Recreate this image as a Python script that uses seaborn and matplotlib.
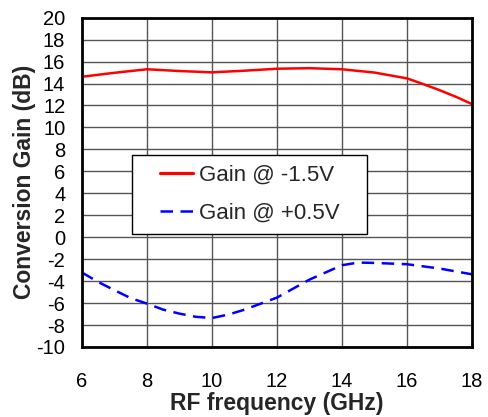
import matplotlib
matplotlib.use("Agg")
import matplotlib.pyplot as plt
import matplotlib.patches as mpatches
import seaborn as sns
import pandas as pd

freq_red = [6, 7, 8, 9, 10, 11, 12, 13, 14, 15, 16, 16.5, 17, 17.5, 18]
gain_red = [14.62, 14.98, 15.3, 15.14, 15.02, 15.17, 15.35, 15.4, 15.3, 15.0, 14.47, 13.95, 13.4, 12.8, 12.13]
freq_blue = [6, 6.5, 7, 7.5, 8, 8.5, 9, 9.5, 10, 10.5, 11, 11.5, 12, 13, 14, 14.5, 15, 16, 17, 18]
gain_blue = [-3.22, -4.08, -4.83, -5.55, -6.05, -6.6, -6.96, -7.25, -7.36, -7.05, -6.6, -6.05, -5.5,
             -3.86, -2.55, -2.31, -2.34, -2.46, -2.85, -3.38]
label_red = "Gain @ -1.5V"
label_blue = "Gain @ +0.5V"
x_ticks = [6, 8, 10, 12, 14, 16, 18]
y_ticks = list(range(-10, 21, 2))

sns.set_style("white")
plt.rcParams['font.family'] = ['Liberation Sans', 'DejaVu Sans']
plt.rcParams['axes.unicode_minus'] = False

df = pd.concat([
    pd.DataFrame({"freq": freq_red, "gain": gain_red, "series": label_red}),
    pd.DataFrame({"freq": freq_blue, "gain": gain_blue, "series": label_blue}),
])

fig = plt.figure(figsize=(4.89, 4.17), dpi=100)
ax = fig.add_axes([0.1677, 0.1679, 0.7975, 0.7897])
sns.lineplot(data=df, x="freq", y="gain", hue="series", style="series",
             palette={label_red: "#ff0000", label_blue: "#0000ff"},
             dashes={label_red: "", label_blue: (5, 3)},
             linewidth=1.8, ax=ax, sort=True)
for ln in ax.get_lines():
    if ln.get_label() == label_red:
        ln.set_linewidth(2.3)

ax.set_xlim(6, 18)
ax.set_ylim(-10, 20)
ax.set_xticks(x_ticks)
ax.set_yticks(y_ticks)
ax.grid(True, color="#555555", linewidth=1)
for s in ax.spines.values():
    s.set_color("black")
    s.set_linewidth(2)
ax.tick_params(axis="both", direction="in", length=4, width=1, labelsize=14.5, colors="black")
ax.tick_params(axis="x", pad=18)
ax.tick_params(axis="y", pad=12)
ax.set_xlabel("RF frequency (GHz)", fontsize=16.5, fontweight="bold", labelpad=0)
ax.set_ylabel("Conversion Gain (dB)", fontsize=16.5, fontweight="bold", labelpad=0)
ax.xaxis.set_label_coords(0.5, -0.138)
ax.yaxis.set_label_coords(-0.118, 0.5)

leg = ax.legend(loc="center", bbox_to_anchor=(0.43, 0.463), fontsize=16, frameon=False,
                handlelength=1.5, handletextpad=0.25, borderpad=0.4,
                labelspacing=0.75, borderaxespad=0)
for h in leg.legend_handles:
    h.set_linewidth(2.3 if h.get_label() == label_red else 1.8)
rect = mpatches.Rectangle((0.128, 0.343), 0.603, 0.24, transform=ax.transAxes,
                          facecolor="white", edgecolor="black", linewidth=1, zorder=4.5)
ax.add_patch(rect)
leg.set_zorder(5)

fig.savefig("out.png", dpi=100)
